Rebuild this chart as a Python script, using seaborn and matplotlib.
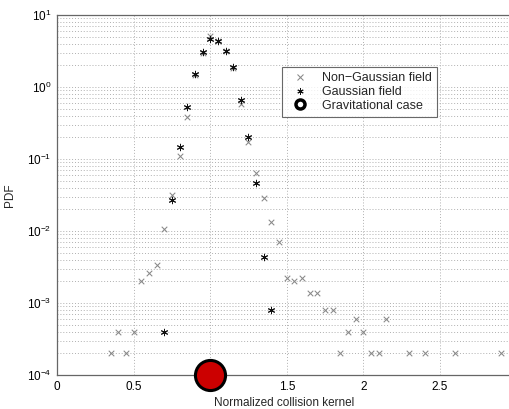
import matplotlib
matplotlib.use("Agg")
import matplotlib.pyplot as plt
from matplotlib.lines import Line2D
import seaborn as sns
import numpy as np

# Data
gauss_x = [0.70, 0.75, 0.80, 0.85, 0.90, 0.95, 1.00, 1.05, 1.10, 1.15, 1.20, 1.25, 1.30, 1.35, 1.40]
gauss_y = [3.9e-4, 0.027, 0.145, 0.53, 1.5, 3.1, 4.6, 4.3, 3.2, 1.9, 0.67, 0.205, 0.046, 0.0043, 8.0e-4]

nong_x = [0.35, 0.40, 0.45, 0.50, 0.55, 0.60, 0.65, 0.70, 0.75, 0.80, 0.85, 0.90, 0.95,
          1.00, 1.05, 1.10, 1.15, 1.20, 1.25, 1.30, 1.35, 1.40, 1.45, 1.50, 1.55, 1.60,
          1.65, 1.70, 1.75, 1.80, 1.85, 1.90, 1.95, 2.00, 2.05, 2.10, 2.15, 2.30, 2.40,
          2.60, 2.90]
nong_y = [2e-4, 4e-4, 2e-4, 4e-4, 0.00204, 0.00258, 0.0034, 0.0105, 0.032, 0.11, 0.38, 1.45, 3.0,
          5.1, 4.4, 3.2, 1.85, 0.58, 0.174, 0.064, 0.029, 0.0132, 0.0071, 0.0022, 0.00202, 0.0022,
          0.00139, 0.00139, 8e-4, 8e-4, 2e-4, 4e-4, 6e-4, 4e-4, 2e-4, 2e-4, 6e-4, 2e-4, 2e-4,
          2e-4, 2e-4]

grav_x = [1.0]
grav_y = [1e-4]

labels = ["Non\u2212Gaussian field", "Gaussian field", "Gravitational case"]
xticks = [0, 0.5, 1, 1.5, 2, 2.5]
xticklabels = ["0", "0.5", "1", "1.5", "2", "2.5"]

sns.set_style("white")
plt.rcParams['font.family'] = ['Liberation Sans', 'DejaVu Sans']
plt.rcParams['mathtext.fontset'] = 'custom'
plt.rcParams['mathtext.rm'] = 'Liberation Sans'
plt.rcParams['mathtext.it'] = 'Liberation Sans'

W, H = 509, 409
fig = plt.figure(figsize=(W / 100, H / 100), dpi=100)
left, right, top, bottom = 57, 512, 15, 375
ax = fig.add_axes([left / W, 1 - bottom / H, (right - left) / W, (bottom - top) / H])

asterisk = (6, 2, 0)
sns.scatterplot(x=nong_x, y=nong_y, marker='x', color='#888888', s=16, linewidth=0.75, ax=ax, zorder=3)
sns.scatterplot(x=gauss_x, y=gauss_y, marker=asterisk, color='#111111', s=22, linewidth=0.7, ax=ax, zorder=4)
sns.scatterplot(x=grav_x, y=grav_y, marker='o', color='#cc0000', edgecolor='black',
                s=470, linewidth=2.2, ax=ax, zorder=10)
for c in ax.collections:
    c.set_clip_on(False)

ax.set_yscale('log')
ax.set_xlim(0, 2.97)
ax.set_ylim(1e-4, 1e1)
ax.set_xticks(xticks)
ax.set_xticklabels(xticklabels)

ax.grid(True, which='major', axis='x', linestyle=(0, (1, 2)), color='#b0b0b0', linewidth=0.7)
ax.grid(True, which='both', axis='y', linestyle=(0, (1, 2)), color='#b0b0b0', linewidth=0.7)
ax.set_axisbelow(True)

ax.tick_params(axis='both', which='both', direction='in', labelsize=8.5, colors='#555555',
               labelcolor='black', top=False, right=False)
ax.tick_params(axis='both', which='major', length=4, pad=4)
ax.tick_params(axis='y', which='minor', length=2)
for side in ['left', 'bottom', 'top']:
    ax.spines[side].set_visible(True)
    ax.spines[side].set_color('#666666')
    ax.spines[side].set_linewidth(0.9)
ax.spines['right'].set_visible(False)

ax.set_xlabel("Normalized collision kernel", fontsize=8.5, labelpad=3)
ax.set_ylabel("PDF", fontsize=8.5, labelpad=8)

handles = [
    Line2D([], [], linestyle='none', marker='x', color='#888888', markersize=4, markeredgewidth=0.75),
    Line2D([], [], linestyle='none', marker=asterisk, color='#111111', markersize=4.5, markeredgewidth=0.7),
    Line2D([], [], linestyle='none', marker='o', markerfacecolor='white', markeredgecolor='black',
           markersize=6.5, markeredgewidth=2.5),
]
leg = fig.legend(handles, labels, loc='upper left', bbox_to_anchor=(282 / W, 1 - 67 / H),
                 borderaxespad=0, fontsize=9, frameon=True, fancybox=False,
                 handlelength=2.0, handletextpad=0.8, labelspacing=0.15, borderpad=0.4)
leg.get_frame().set_edgecolor('#444444')
leg.get_frame().set_linewidth(0.8)

fig.savefig("out.png", dpi=100)
